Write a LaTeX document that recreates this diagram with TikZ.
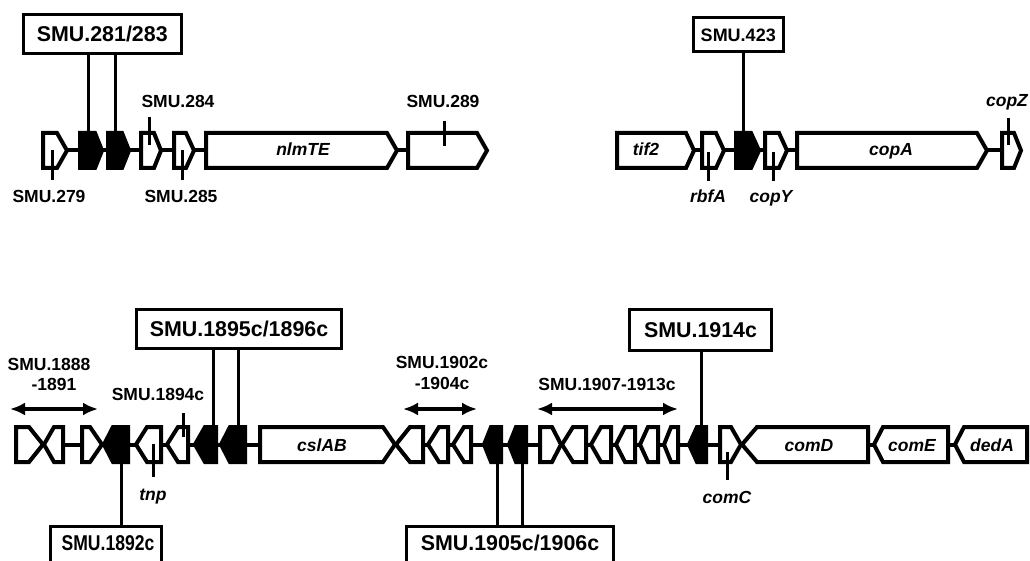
\documentclass[tikz,border=0pt]{standalone}
\usepackage{fontspec}
\setmainfont{Liberation Sans}
\usetikzlibrary{positioning,arrows.meta}

% gene arrows: #2 left, #3 end of flat top, #4 tip, #5 centre line
\newcommand{\genef}[5][white]{%
  \draw[gene, fill=#1] (#2,#5-17.5) -- (#3,#5-17.5) -- (#4,#5) -- (#3,#5+17.5) -- (#2,#5+17.5) -- cycle;}
% reverse: #2 tip, #3 start of flat top, #4 right
\newcommand{\gener}[5][white]{%
  \draw[gene, fill=#1] (#2,#5) -- (#3,#5-17.5) -- (#4,#5-17.5) -- (#4,#5+17.5) -- (#3,#5+17.5) -- cycle;}

\begin{document}
\begin{tikzpicture}[x=1pt, y=-1pt,
  dna/.style={line width=4pt},
  gene/.style={line width=4pt, line join=miter},
  tck/.style={line width=3pt},
  lead/.style={line width=3pt},
  bigbox/.style={draw, line width=3pt, inner sep=0pt,
                 font=\bfseries\fontsize{21.4}{24}\selectfont},
  cutbox/.style={bigbox, text height=24.5pt, text depth=19.5pt, anchor=north},
  lbl/.style={font=\bfseries\fontsize{17.5}{20}\selectfont, anchor=base},
  gname/.style={font=\bfseries\itshape\fontsize{17.5}{20}\selectfont, anchor=base},
  gspan/.style={line width=3.5pt, {Latex[length=15pt,width=13pt]}-{Latex[length=15pt,width=13pt]}}
]
\useasboundingbox (0,0) rectangle (1030,561);

% ---------------- SMU.279 - SMU.289 ----------------
\draw[dna] (43,150.5) -- (487,150.5);
\genef{43}{57}{67}{150.5}
\genef[black]{80}{95}{102}{150.5}
\genef[black]{108}{122}{129}{150.5}
\genef{141}{154}{161}{150.5}
\genef{174}{186}{194}{150.5}
\genef{206}{387}{397}{150.5}
\genef{408}{477}{487}{150.5}
\node[gname] (nlmte) at (303,156) {nlmTE};
\draw[tck] (52,150) -- (52,180);
\draw[tck] (149,117) -- (149,145);
\draw[tck] (182,150) -- (182,180);
\draw[tck] (444,121) -- (444,146);
\node[lbl] (l279) at (49,203) {SMU.279};
\node[lbl] (l285) at (181,203) {SMU.285};
\node[lbl] (l284) at (178,108) {SMU.284};
\node[lbl] (l289) at (443,108) {SMU.289};
\node[bigbox, minimum width=158.5pt, minimum height=38.5pt] (b281) at (102.25,34.25) {SMU.281/283};
\coordinate (g281) at (88,133);
\coordinate (g283) at (115,133);
\draw[lead] (b281.south -| g281) -- (g281);
\draw[lead] (b281.south -| g283) -- (g283);

% ---------------- tif2 - copZ ----------------
\draw[dna] (617,150.5) -- (1021,150.5);
\genef{617}{686}{694}{150.5}
\genef{702}{716}{724}{150.5}
\genef[black]{736}{751}{759}{150.5}
\genef{765}{779}{787}{150.5}
\genef{797}{977}{987}{150.5}
\genef{1002}{1014}{1021}{150.5}
\node[gname] (tif) at (646,156) {tif2};
\node[gname] (copa) at (891,156) {copA};
\draw[tck] (708,152) -- (708,181);
\draw[tck] (773,152) -- (773,181);
\draw[tck] (1008,118) -- (1008,145);
\node[gname] (rbfa) at (708,203) {rbfA};
\node[gname] (copy) at (771,203) {copY};
\node[gname] (copz) at (1007,107) {copZ};
\node[bigbox, minimum width=90.5pt, minimum height=34pt,
      font=\bfseries\fontsize{18}{20}\selectfont] (b423) at (738.25,35) {SMU.423};
\coordinate (g423) at (743,133);
\draw[lead] (b423.south -| g423) -- (g423);

% ---------------- SMU.1888 - dedA ----------------
\draw[dna] (16,444.5) -- (1027,444.5);
\genef{16}{29}{43}{444.5}
\gener{44}{54}{63}{444.5}
\genef{82}{90}{102}{444.5}
\gener[black]{104}{113}{128}{444.5}
\gener{136}{147}{161}{444.5}
\gener{167}{178}{188}{444.5}
\gener[black]{195}{205}{216}{444.5}
\gener[black]{221}{230}{245}{444.5}
\genef{260}{383}{395}{444.5}
\gener{396}{410}{423}{444.5}
\gener{428}{439}{448}{444.5}
\gener{453}{464}{471}{444.5}
\gener[black]{484}{491}{501}{444.5}
\gener[black]{509}{516}{526}{444.5}
\genef{540}{552}{561}{444.5}
\gener{562}{573}{586}{444.5}
\gener{591}{601}{611}{444.5}
\gener{616}{625}{635}{444.5}
\gener{640}{648}{658}{444.5}
\gener{664}{671}{678}{444.5}
\gener[black]{689}{697}{706}{444.5}
\genef{720}{731}{741}{444.5}
\gener{742}{757}{868}{444.5}
\gener{874}{883}{948}{444.5}
\gener{955}{964}{1027}{444.5}
\node[gname] (cslab) at (322,451) {cslAB};
\node[gname] (comd) at (809,451) {comD};
\node[gname] (come) at (912,451) {comE};
\node[gname] (deda) at (992,451) {dedA};
\draw[tck] (153,444) -- (153,477);
\draw[tck] (183,413) -- (183,437);
\draw[tck] (727,452) -- (727,480);
\node[gname] (tnp) at (153,500) {tnp};
\node[gname] (comc) at (727,503) {comC};
\node[lbl] (l1894) at (158,400) {SMU.1894c};

% ranges
\coordinate (r1888a) at (10,409);  \coordinate (r1888b) at (98,409);
\coordinate (r1902a) at (403,409); \coordinate (r1902b) at (477,409);
\coordinate (r1907a) at (537,409); \coordinate (r1907b) at (678,409);
\draw[gspan] (r1888a) -- (r1888b);
\draw[gspan] (r1902a) -- (r1902b);
\draw[gspan] (r1907a) -- (r1907b);
\node[lbl] (l1888) at (49,370) {SMU.1888};
\node[lbl] (l1891) at (54,390) {-1891};
\node[lbl] (l1902) at (442,368) {SMU.1902c};
\node[lbl] (l1904) at (442,389) {-1904c};
\node[lbl] (l1907) at (607,390) {SMU.1907-1913c};

% boxes
\node[bigbox, minimum width=205pt, minimum height=39pt] (b1895) at (239,329) {SMU.1895c/1896c};
\node[bigbox, minimum width=142pt, minimum height=41pt] (b1914) at (700.5,330) {SMU.1914c};
\node[cutbox, minimum width=111pt] (b1892) at (106,524.5) {\hspace{4pt}\scalebox{0.82}[1]{SMU.1892c}};
\node[cutbox, minimum width=207pt] (b1905) at (510,524.5) {SMU.1905c/1906c};
\coordinate (g1895) at (213,427);
\coordinate (g1896) at (238,427);
\coordinate (g1914) at (701,427);
\coordinate (g1892) at (121,462);
\coordinate (g1905) at (497,462);
\coordinate (g1906) at (522,462);
\draw[lead] (b1895.south -| g1895) -- (g1895);
\draw[lead] (b1895.south -| g1896) -- (g1896);
\draw[lead] (b1914.south -| g1914) -- (g1914);
\draw[lead] (b1892.north -| g1892) -- (g1892);
\draw[lead] (b1905.north -| g1905) -- (g1905);
\draw[lead] (b1905.north -| g1906) -- (g1906);
\end{tikzpicture}
\end{document}
